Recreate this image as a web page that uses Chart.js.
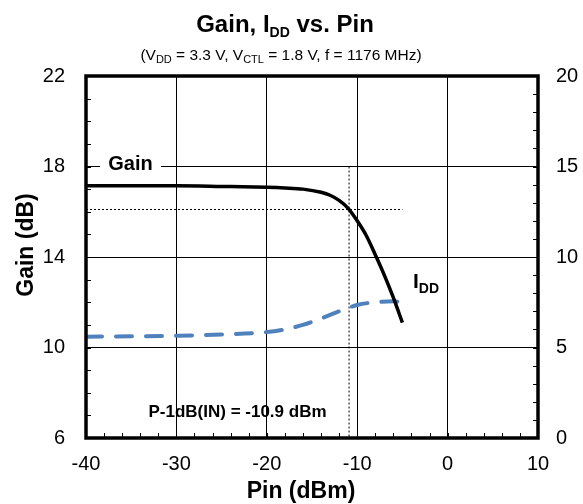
<!DOCTYPE html>
<html lang="en">
<head>
    <meta charset="UTF-8">
    <title>Gain, IDD vs. Pin</title>
    <script src="https://cdn.jsdelivr.net/npm/chart.js"></script>
    <style>
        body { margin: 0; background: #fff; }
    </style>
</head>
<body>
    <canvas id="gainChart" width="583" height="504"></canvas>

    <script>
        // Gain curve (left axis, dB)
        const gainPin = [-40, -35, -30, -25, -20, -18, -16, -14, -13, -12, -11, -10, -9, -8, -7, -6, -5];
        const gainValues = [17.15, 17.15, 17.15, 17.12, 17.08, 17.05, 17.0, 16.86, 16.73, 16.5, 16.15, 15.6, 14.95, 14.1, 13.2, 12.2, 11.1];

        // IDD curve (right axis, mA)
        const iddPin = [-40, -35, -30, -25, -20, -18, -16, -14, -12, -10, -8, -6, -5];
        const iddValues = [5.6, 5.62, 5.65, 5.72, 5.85, 6.0, 6.25, 6.6, 7.0, 7.35, 7.5, 7.55, 7.5];

        // P-1dB markers
        const p1dbPin = -10.9;
        const p1dbGain = 16.1;
        const p1dbTop = 18;
        const refLineStart = -40;
        const refLineEnd = -5;

        const font = "'Liberation Sans', Arial, sans-serif";

        function pts(xs, ys) {
            return xs.map((x, i) => ({ x: x, y: ys[i] }));
        }

        // draws text pieces with subscripts, centred on cx
        function drawRich(ctx, parts, cx, y) {
            let w = 0;
            parts.forEach(p => { ctx.font = p.f; w += ctx.measureText(p.t).width; });
            let x = cx - w / 2;
            ctx.textAlign = 'left';
            ctx.textBaseline = 'alphabetic';
            parts.forEach(p => {
                ctx.font = p.f;
                ctx.fillText(p.t, x, y + (p.dy || 0));
                x += ctx.measureText(p.t).width;
            });
        }

        const decorPlugin = {
            id: 'decor',
            afterDatasetsDraw(chart) {
                const ctx = chart.ctx;
                const a = chart.chartArea;
                const xs = chart.scales.x, yl = chart.scales.y, yr = chart.scales.y1;
                ctx.save();
                ctx.strokeStyle = '#000';
                ctx.fillStyle = '#000';

                // minor ticks, pointing inward
                ctx.lineWidth = 1;
                ctx.beginPath();
                for (let v = 6; v <= 22; v += 1) {
                    const py = Math.round(yl.getPixelForValue(v)) + 0.5;
                    ctx.moveTo(a.left, py); ctx.lineTo(a.left + 5, py);
                }
                for (let v = 0; v <= 20; v += 1) {
                    const py = Math.round(yr.getPixelForValue(v)) + 0.5;
                    ctx.moveTo(a.right, py); ctx.lineTo(a.right - 5, py);
                }
                for (let v = -40; v <= 10; v += 2) {
                    const px = Math.round(xs.getPixelForValue(v)) + 0.5;
                    ctx.moveTo(px, a.bottom); ctx.lineTo(px, a.bottom - 5);
                }
                ctx.stroke();

                // frame
                ctx.lineWidth = 3.5;
                ctx.strokeRect(a.left, a.top, a.right - a.left, a.bottom - a.top);

                // "Gain" label with white box over the grid line
                ctx.fillStyle = '#fff';
                ctx.fillRect(100, 152, 61, 24);
                ctx.fillStyle = '#000';
                drawRich(ctx, [{ t: 'Gain', f: 'bold 20px ' + font }], 130.5, 170);

                // IDD label
                ctx.textAlign = 'left';
                ctx.font = 'bold 21px ' + font;
                ctx.fillText('I', 413, 288);
                const iw = ctx.measureText('I').width;
                ctx.font = 'bold 14px ' + font;
                ctx.fillText('DD', 413 + iw, 293);

                // P-1dB text
                drawRich(ctx, [{ t: 'P-1dB(IN) = -10.9 dBm', f: 'bold 17px ' + font }], 237.5, 417);

                // titles
                drawRich(ctx, [
                    { t: 'Gain, I', f: 'bold 24px ' + font },
                    { t: 'DD', f: 'bold 14px ' + font, dy: 5 },
                    { t: ' vs. Pin', f: 'bold 24px ' + font }
                ], 285, 32);
                const sf = '15.5px ' + font, ss = '11px ' + font;
                drawRich(ctx, [
                    { t: '(V', f: sf }, { t: 'DD', f: ss, dy: 3 },
                    { t: ' = 3.3 V, V', f: sf }, { t: 'CTL', f: ss, dy: 3 },
                    { t: ' = 1.8 V, f = 1176 MHz)', f: sf }
                ], 281, 60);

                drawRich(ctx, [{ t: 'Pin (dBm)', f: 'bold 23px ' + font }], 301, 498);

                ctx.save();
                ctx.translate(25, 245);
                ctx.rotate(-Math.PI / 2);
                drawRich(ctx, [{ t: 'Gain (dB)', f: 'bold 23px ' + font }], 0, 8);
                ctx.restore();

                ctx.restore();
            }
        };

        const ctx = document.getElementById('gainChart').getContext('2d');
        new Chart(ctx, {
            type: 'line',
            data: {
                datasets: [
                    {
                        label: 'Gain',
                        data: pts(gainPin, gainValues),
                        yAxisID: 'y',
                        borderColor: '#000',
                        borderWidth: 3.5,
                        pointRadius: 0,
                        cubicInterpolationMode: 'monotone',
                        fill: false
                    },
                    {
                        label: 'IDD',
                        data: pts(iddPin, iddValues),
                        yAxisID: 'y1',
                        borderColor: '#4f81bd',
                        borderWidth: 4,
                        borderDash: [16, 14],
                        borderCapStyle: 'round',
                        pointRadius: 0,
                        cubicInterpolationMode: 'monotone',
                        fill: false
                    },
                    {
                        label: 'P1dB level',
                        data: [{ x: refLineStart, y: p1dbGain }, { x: refLineEnd, y: p1dbGain }],
                        yAxisID: 'y',
                        borderColor: '#000',
                        borderWidth: 1,
                        borderDash: [2, 2],
                        pointRadius: 0
                    },
                    {
                        label: 'P1dB input',
                        data: [{ x: p1dbPin, y: p1dbTop }, { x: p1dbPin, y: 6 }],
                        yAxisID: 'y',
                        borderColor: '#000',
                        borderWidth: 1,
                        borderDash: [2, 2],
                        pointRadius: 0
                    }
                ]
            },
            options: {
                responsive: false,
                animation: false,
                layout: { padding: { top: 76, left: 0, right: 0, bottom: 0 } },
                plugins: {
                    legend: { display: false },
                    tooltip: { enabled: false }
                },
                scales: {
                    x: {
                        type: 'linear',
                        min: -40,
                        max: 10,
                        ticks: { stepSize: 10, color: '#000', font: { family: font, size: 20 }, padding: 14 },
                        grid: { color: '#000', lineWidth: 1, drawTicks: false },
                        border: { display: false },
                        afterFit(s) { s.height = 66; }
                    },
                    y: {
                        position: 'left',
                        min: 6,
                        max: 22,
                        ticks: { stepSize: 4, color: '#000', font: { family: font, size: 20 }, padding: 21 },
                        grid: { color: '#000', lineWidth: 1, drawTicks: false },
                        border: { display: false },
                        afterFit(s) { s.width = 86; }
                    },
                    y1: {
                        position: 'right',
                        min: 0,
                        max: 20,
                        ticks: { stepSize: 5, color: '#000', font: { family: font, size: 20 }, padding: 18 },
                        grid: { display: false, drawTicks: false },
                        border: { display: false },
                        afterFit(s) { s.width = 45; }
                    }
                }
            },
            plugins: [decorPlugin]
        });
    </script>
</body>
</html>
